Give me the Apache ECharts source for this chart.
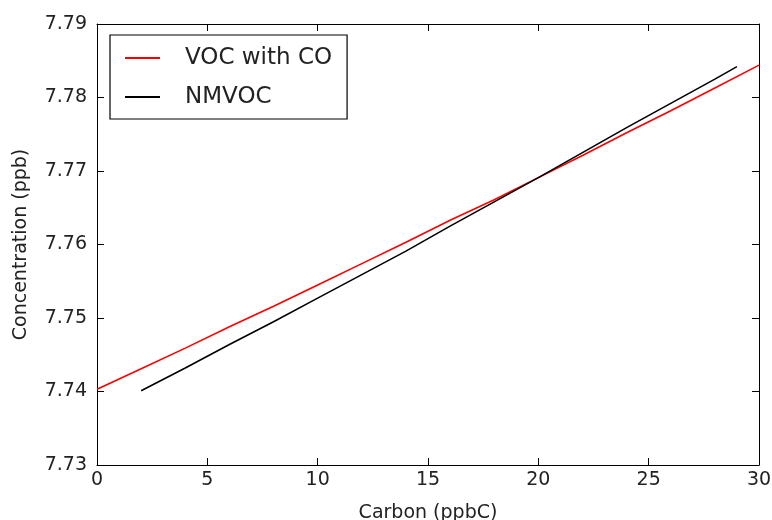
<!DOCTYPE html>
<html>
<head>
<meta charset="utf-8">
<script src="https://cdn.jsdelivr.net/npm/echarts@6/dist/echarts.min.js"></script>
<style>
  html, body { margin: 0; padding: 0; background: #ffffff; }
  #chart { width: 772px; height: 520px; }
</style>
</head>
<body>
<div id="chart"></div>
<script>
// Carbon (ppbC) sample points and concentrations (ppb)
const vocCarbon = [0, 2, 4, 6, 8, 10, 12, 14, 16, 18, 20, 22, 24, 26, 28, 30];
const vocValues = [7.7403, 7.7431, 7.7459, 7.7488, 7.7516, 7.7545, 7.7574, 7.7603,
                   7.7633, 7.7661, 7.7691, 7.7721, 7.7752, 7.7782, 7.7813, 7.7844];

const nmvocCarbon = [2, 4, 6, 8, 10, 12, 14, 16, 18, 20, 22, 24, 26, 28, 29];
const nmvocValues = [7.7401, 7.7432, 7.7464, 7.7495, 7.7527, 7.7559, 7.7591, 7.7625,
                     7.7658, 7.7691, 7.7725, 7.7759, 7.7792, 7.7825, 7.7842];

const seriesNames = ['VOC with CO', 'NMVOC'];
const xTicks = { min: 0, max: 30, step: 5 };
const yTicks = { min: 7.73, max: 7.79, step: 0.01 };

const FONT = 'DejaVu Sans';
const pairs = (xs, ys) => xs.map((x, i) => [x, ys[i]]);

// Plain value axis used for every side of the frame; ticks point inward
const frameAxis = (extra) => Object.assign({
  type: 'value',
  axisLine: { show: true, onZero: false, lineStyle: { color: '#000', width: 1 } },
  axisTick: { show: true, inside: true, length: 7, lineStyle: { color: '#000', width: 1 } },
  splitLine: { show: false },
  axisLabel: { show: false }
}, extra);

const chart = echarts.init(document.getElementById('chart'), null, { renderer: 'canvas' });

chart.setOption({
  animation: false,
  backgroundColor: '#ffffff',
  textStyle: { fontFamily: FONT },
  grid: {
    left: 97, right: 13, top: 24, bottom: 55,
    containLabel: false,
    outerBoundsMode: 'none'
  },
  xAxis: [
    frameAxis({
      position: 'bottom',
      min: xTicks.min, max: xTicks.max, interval: xTicks.step,
      name: 'Carbon (ppbC)',
      nameLocation: 'middle',
      nameGap: 39,
      nameTextStyle: { fontFamily: FONT, fontSize: 19, color: '#222' },
      axisLabel: { show: true, margin: 6, fontFamily: FONT, fontSize: 19, color: '#222' }
    }),
    frameAxis({
      position: 'top',
      min: xTicks.min, max: xTicks.max, interval: xTicks.step
    })
  ],
  yAxis: [
    frameAxis({
      position: 'left',
      min: yTicks.min, max: yTicks.max, interval: yTicks.step,
      name: 'Concentration (ppb)',
      nameLocation: 'middle',
      nameGap: 66,
      nameTextStyle: { fontFamily: FONT, fontSize: 19, color: '#222' },
      axisLabel: {
        show: true, margin: 10, fontFamily: FONT, fontSize: 19, color: '#222',
        formatter: (v) => v.toFixed(2)
      }
    }),
    frameAxis({
      position: 'right',
      min: yTicks.min, max: yTicks.max, interval: yTicks.step
    })
  ],
  legend: {
    orient: 'vertical',
    left: 110,
    top: 35,
    data: seriesNames,
    icon: 'rect',
    itemWidth: 35,
    itemHeight: 2,
    itemGap: 13,
    padding: [10, 15, 9, 15],
    borderColor: '#000',
    borderWidth: 1.2,
    borderRadius: 0,
    backgroundColor: '#ffffff',
    textStyle: { fontFamily: FONT, fontSize: 23, color: '#222', lineHeight: 26, padding: [0, 0, 0, 20] }
  },
  series: [
    {
      name: seriesNames[0],
      type: 'line',
      xAxisIndex: 0, yAxisIndex: 0,
      data: pairs(vocCarbon, vocValues),
      symbol: 'none',
      smooth: false,
      color: '#ff0000',
      lineStyle: { color: '#ff0000', width: 1.6 },
      itemStyle: { color: '#ff0000' },
      z: 3
    },
    {
      name: seriesNames[1],
      type: 'line',
      xAxisIndex: 0, yAxisIndex: 0,
      data: pairs(nmvocCarbon, nmvocValues),
      symbol: 'none',
      smooth: false,
      color: '#000000',
      lineStyle: { color: '#000000', width: 1.6 },
      itemStyle: { color: '#000000' },
      z: 4
    }
  ]
});
</script>
</body>
</html>
